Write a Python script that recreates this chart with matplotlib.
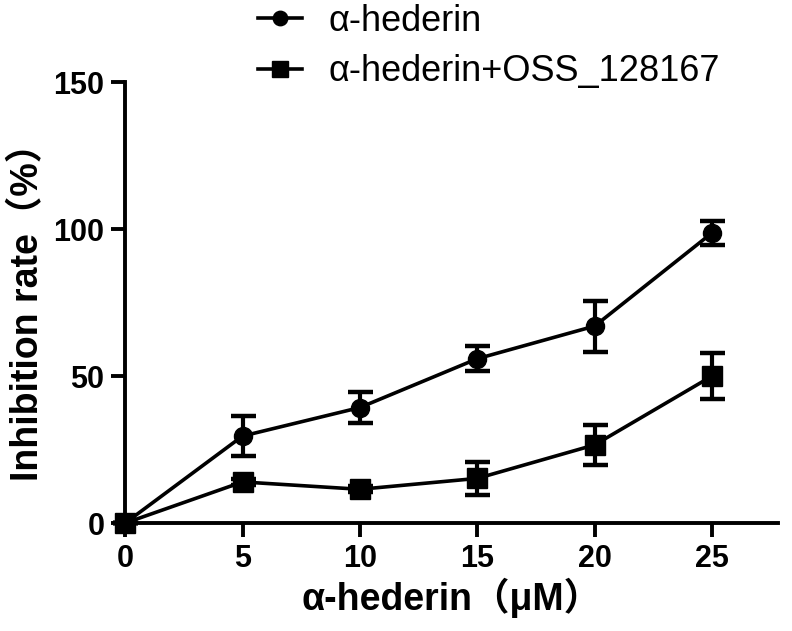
import numpy as np
import matplotlib.pyplot as plt

plt.rcParams['font.family'] = ['Liberation Sans', 'Noto Sans CJK SC', 'DejaVu Sans']

# data
conc = [0, 5, 10, 15, 20, 25]
alone = [0, 29.6, 39.3, 55.9, 67.0, 98.7]
alone_err = [0, 6.8, 5.2, 4.2, 8.7, 4.2]
combo = [0, 14.0, 11.5, 15.2, 26.6, 50.0]
combo_err = [0, 1.0, 1.0, 5.7, 6.9, 7.8]

fig = plt.figure(figsize=(7.92, 6.31), dpi=100)
ax = fig.add_axes([0.158, 0.171, 0.824, 0.699])

lw = 2.6
ax.errorbar(conc, alone, yerr=alone_err, color='black', marker='o', ms=13,
            lw=lw, capsize=9, capthick=lw + 0.6, elinewidth=lw + 0.4,
            label='α-hederin', clip_on=False, zorder=3)
ax.errorbar(conc, combo, yerr=combo_err, color='black', marker='s', ms=14,
            lw=lw, capsize=9, capthick=lw + 0.6, elinewidth=lw + 0.4,
            label='α-hederin+OSS_128167', clip_on=False, zorder=3)

ax.set_xlim(0, 27.8)
ax.set_ylim(0, 150)
ax.set_xticks(conc)
ax.set_yticks([0, 50, 100, 150])
for s in ['top', 'right']:
    ax.spines[s].set_visible(False)
for s in ['left', 'bottom']:
    ax.spines[s].set_linewidth(2.8)
ax.tick_params(width=2.8, length=10, labelsize=22, pad=5)
for lab in ax.get_xticklabels() + ax.get_yticklabels():
    lab.set_fontweight('bold')

ax.set_xlabel('α-hederin（μM）', fontsize=27, fontweight='bold', labelpad=3)
ax.set_ylabel('Inhibition rate（%）', fontsize=27, fontweight='bold', labelpad=5)

handles, labels = ax.get_legend_handles_labels()
handles = [h[0] for h in handles]
fig.legend(handles, labels, loc='upper left', bbox_to_anchor=(0.285, 1.045),
           frameon=False, fontsize=26, handlelength=1.2, handletextpad=0.75,
           labelspacing=0.42, markerscale=0.8)

fig.savefig('out.png', dpi=100)
